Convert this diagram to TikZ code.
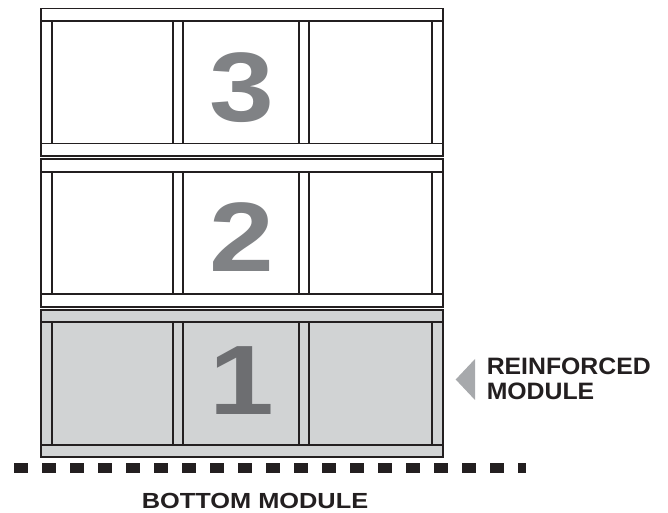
\documentclass[tikz,border=0pt]{standalone}
\usepackage{fontspec}
\setmainfont{Liberation Sans}
\definecolor{frameline}{HTML}{231F20}
\definecolor{reinffill}{HTML}{D1D3D4}
\definecolor{digitgray}{HTML}{808285}
\definecolor{digitdark}{HTML}{6D6E71}
\definecolor{markgray}{HTML}{A7A9AC}
\begin{document}
\begin{tikzpicture}[x=0.75pt, y=-0.75pt,
  frame/.style={draw=frameline, line width=1.45pt},
  digit/.style={font=\fontsize{74}{74}\selectfont\bfseries, xscale=1.18, transform shape, inner sep=0pt},
  calltext/.style={font=\fontsize{17.8}{18.75}\selectfont\bfseries, text=frameline, inner sep=0pt},
  pics/module/.style={code={
    % frame with top and bottom rails
    \draw[frame, pic actions] (0,0) rectangle (402.6,147.3);
    \draw[frame] (0,12.3) -- (402.6,12.3) (0,135) -- (402.6,135);
    % studs
    \foreach \sx in {11,132,142.6,258.6,268.6,391}
      \draw[frame] (\sx,12.3) -- (\sx,135);
  }}]
  \useasboundingbox (0,0) rectangle (668,513);

  % stacked modules, top to bottom
  \pic at (40.7,8.5) {module};
  \pic at (40.7,159.3) {module};
  \pic[fill=reinffill] at (40.7,310) {module};

  % module numbers
  \node[digit, text=digitgray] (num3) at (241.5,88) {3};
  \node[digit, text=digitgray] (num2) at (241.5,237) {2};
  \node[digit, text=digitdark] (num1) at (241.5,380.5) {1};

  % ground line
  \draw[frameline, line width=7.1pt, dash pattern=on 10.5pt off 10.5pt] (14,468) -- (526,468);

  % reinforced module marker
  \fill[markgray] (455.7,379.5) -- (475,359) -- (475,400) -- cycle;
  \node[calltext, align=left, anchor=west, xscale=1.045, transform shape] (reinf) at (486.5,379.2) {REINFORCED\\MODULE};

  \node[calltext, font=\fontsize{16.4}{16.4}\selectfont\bfseries, xscale=1.16, transform shape] (bottom) at (255,500.8) {BOTTOM MODULE};
\end{tikzpicture}
\end{document}
